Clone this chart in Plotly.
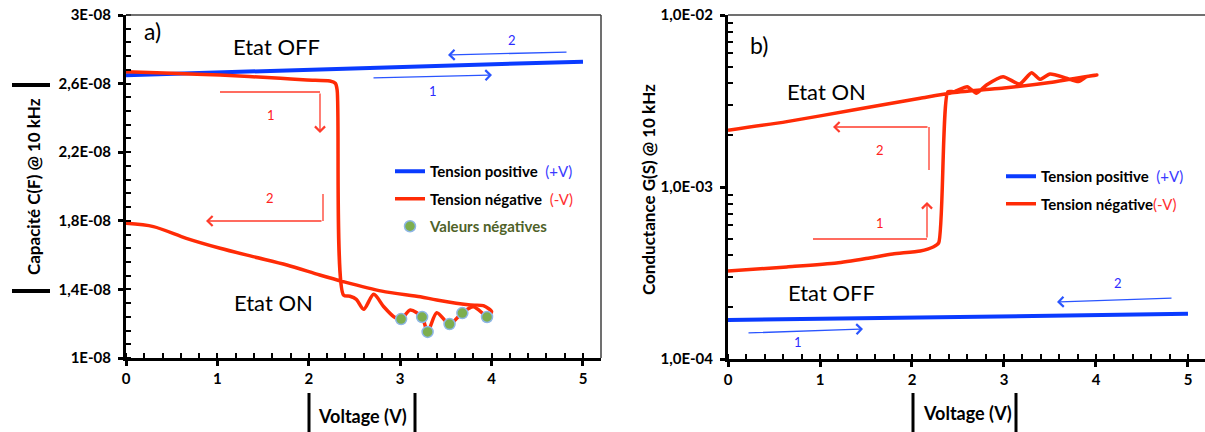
import plotly.graph_objects as go

W, H = 1205, 432
FONT = "Lato"
BLUE = "#0A3BFF"
RED = "#FF2B06"
ARROW_BLUE = "#2A55FF"
ARROW_RED = "#FF3B2B"

# ---------------- data: panel a) capacitance ----------------
volt_a_pos = [0.0, 2.5, 5.0]
cap_a_pos = [2.649e-8, 2.686e-8, 2.728e-8]

volt_a_neg = [0.0, 0.5, 1.03, 1.69, 1.98, 2.23, 2.29, 2.31, 2.38, 2.45, 2.52, 2.60,
              2.71, 2.82, 2.93, 3.01, 3.11, 3.24, 3.30, 3.40, 3.54, 3.68, 3.80, 3.95,
              4.00, 3.91, 3.77, 3.40, 3.22, 2.80, 2.38, 2.12, 1.76, 1.39, 1.03, 0.66,
              0.30, 0.0]
cap_a_neg = [2.669e-8, 2.660e-8, 2.650e-8, 2.631e-8, 2.621e-8, 2.615e-8, 2.602e-8,
             2.563e-8, 1.367e-8, 1.360e-8, 1.342e-8, 1.284e-8, 1.371e-8, 1.299e-8,
             1.241e-8, 1.226e-8, 1.280e-8, 1.237e-8, 1.153e-8, 1.264e-8, 1.198e-8,
             1.264e-8, 1.299e-8, 1.245e-8, 1.270e-8, 1.305e-8, 1.309e-8, 1.338e-8,
             1.357e-8, 1.390e-8, 1.445e-8, 1.484e-8, 1.542e-8, 1.591e-8, 1.640e-8,
             1.698e-8, 1.766e-8, 1.785e-8]

volt_a_dots = [3.01, 3.24, 3.30, 3.54, 3.68, 3.95]
cap_a_dots = [1.227e-8, 1.239e-8, 1.152e-8, 1.198e-8, 1.262e-8, 1.239e-8]

# ---------------- data: panel b) conductance ----------------
volt_b_pos = [0.0, 2.5, 5.0]
cond_b_pos = [1.685e-4, 1.755e-4, 1.83e-4]

volt_b_neg = [0.0, 0.64, 1.18, 1.54, 1.79, 2.09, 2.23, 2.29, 2.39, 2.46, 2.60, 2.70,
              2.81, 2.99, 3.17, 3.30, 3.39, 3.50, 3.68, 3.81, 3.90, 4.01, 3.50, 3.00,
              2.74, 2.41, 2.09, 1.36, 0.64, 0.0]
cond_b_neg = [3.25e-4, 3.43e-4, 3.61e-4, 3.87e-4, 4.08e-4, 4.25e-4, 4.48e-4, 4.73e-4,
              3.58e-3, 3.58e-3, 3.83e-3, 3.51e-3, 3.92e-3, 4.38e-3, 3.97e-3, 4.62e-3,
              4.23e-3, 4.54e-3, 4.29e-3, 4.10e-3, 4.38e-3, 4.48e-3, 4.05e-3, 3.76e-3,
              3.66e-3, 3.51e-3, 3.28e-3, 2.80e-3, 2.40e-3, 2.14e-3]

# ---------------- tick labels ----------------
x_ticks = [0, 1, 2, 3, 4, 5]
y_a_ticks = [1e-8, 1.4e-8, 1.8e-8, 2.2e-8, 2.6e-8, 3e-8]
y_a_labels = ["1E-08", "1,4E-08", "1,8E-08", "2,2E-08", "2,6E-08", "3E-08"]
y_b_ticks = [1e-4, 1e-3, 1e-2]
y_b_labels = ["1,0E-04", "1,0E-03", "1,0E-02"]
y_b_minor = [m * 10.0 ** e for e in (-4, -3) for m in range(2, 10)]

legend_pos = "<b>Tension positive</b>  <span style='color:#3B3BFF'>(+V)</span>"
legend_neg_a = "<b>Tension négative</b>  <span style='color:#FF3030'>(-V)</span>"
legend_neg_b = "<b>Tension négative</b><span style='color:#FF3030'>(-V)</span>"
legend_dots = "<b><span style='color:#4F6228'>Valeurs négatives</span></b>"


def px(x):
    return x / W


def py(y):
    return 1 - y / H


fig = go.Figure()

# panel a
fig.add_trace(go.Scatter(x=volt_a_pos, y=cap_a_pos, mode="lines", name=legend_pos,
                         line=dict(color=BLUE, width=4), xaxis="x", yaxis="y",
                         legend="legend", legendgroup="a1"))
fig.add_trace(go.Scatter(x=volt_a_neg, y=cap_a_neg, mode="lines", name=legend_neg_a,
                         line=dict(color=RED, width=3.5, shape="spline", smoothing=0.8),
                         xaxis="x", yaxis="y", legend="legend", legendgroup="a2"))
fig.add_trace(go.Scatter(x=volt_a_dots, y=cap_a_dots, mode="markers", name=legend_dots,
                         marker=dict(color="#7DAE4E", size=11,
                                     line=dict(color="#8DB6E6", width=1.5)),
                         xaxis="x", yaxis="y", legend="legend", legendgroup="a3"))

# panel b
fig.add_trace(go.Scatter(x=volt_b_pos, y=cond_b_pos, mode="lines", name=legend_pos,
                         line=dict(color=BLUE, width=4), xaxis="x2", yaxis="y2",
                         legend="legend2", legendgroup="b1"))
fig.add_trace(go.Scatter(x=volt_b_neg, y=cond_b_neg, mode="lines", name=legend_neg_b,
                         line=dict(color=RED, width=3.5, shape="spline", smoothing=0.6),
                         xaxis="x2", yaxis="y2", legend="legend2", legendgroup="b2"))

tickfont = dict(family=FONT, size=15, color="black", weight="bold")
common_x = dict(showline=True, linewidth=3, linecolor="black", showgrid=False,
                zeroline=False, ticks="outside", ticklen=5, tickwidth=2.5,
                tickcolor="black", tickvals=x_ticks, tickfont=tickfont,
                automargin=False,
                minor=dict(ticks="inside", dtick=0.2, tick0=0, ticklen=5,
                           tickwidth=2, tickcolor="black"))

fig.update_layout(
    width=W, height=H, autosize=False,
    margin=dict(l=0, r=0, t=0, b=0, pad=0, autoexpand=False),
    paper_bgcolor="white", plot_bgcolor="white",
    font=dict(family=FONT, color="black"),
    xaxis=dict(domain=[px(126), px(601)], range=[0, 5.197], anchor="y", **common_x),
    yaxis=dict(domain=[py(358), py(15)], range=[1e-8, 3e-8], anchor="x",
               showline=True, linewidth=3, linecolor="black", showgrid=False,
               zeroline=False, ticks="outside", ticklen=5, tickwidth=2.5,
               tickcolor="black", tickvals=y_a_ticks, ticktext=y_a_labels,
               tickfont=tickfont, ticklabelstandoff=4, automargin=False,
               minor=dict(ticks="inside", dtick=0.08e-8, tick0=1e-8, ticklen=5,
                          tickwidth=2, tickcolor="black")),
    xaxis2=dict(domain=[px(728), 1.0], range=[0, 5.185], anchor="y2", **common_x),
    yaxis2=dict(domain=[py(359), py(15)], type="log", range=[-4, -2], anchor="x2",
                showline=True, linewidth=3, linecolor="black", showgrid=False,
                zeroline=False, ticks="outside", ticklen=5, tickwidth=2.5,
                tickcolor="black", tickvals=y_b_ticks, ticktext=y_b_labels,
                tickfont=tickfont, ticklabelstandoff=4, automargin=False,
                minor=dict(ticks="inside", tickvals=y_b_minor, ticklen=5,
                           tickwidth=2, tickcolor="black")),
    legend=dict(x=px(390), y=py(155), xanchor="left", yanchor="top",
                bgcolor="rgba(0,0,0,0)", font=dict(family=FONT, size=15, color="black"),
                tracegroupgap=5, traceorder="grouped"),
    legend2=dict(x=px(1001), y=py(160), xanchor="left", yanchor="top",
                 bgcolor="rgba(0,0,0,0)", font=dict(family=FONT, size=15, color="black"),
                 tracegroupgap=5, traceorder="grouped"),
)

ann = []
shapes = []


def text(x, y, s, size, color="black", weight="normal", angle=0):
    ann.append(dict(x=px(x), y=py(y), xref="paper", yref="paper", text=s,
                    showarrow=False, textangle=angle, xanchor="center", yanchor="middle",
                    font=dict(family=FONT, size=size, color=color, weight=weight)))


def arrow(tx, ty, hx, hy, color):
    ann.append(dict(x=px(hx), y=py(hy), xref="paper", yref="paper", text="",
                    ax=tx - hx, ay=ty - hy, axref="pixel", ayref="pixel",
                    showarrow=True, arrowhead=4, arrowsize=1.5, arrowwidth=1.3,
                    arrowcolor=color, standoff=0))


def seg(x0, y0, x1, y1, color, width):
    shapes.append(dict(type="line", xref="paper", yref="paper", x0=px(x0), y0=py(y0),
                       x1=px(x1), y1=py(y1), line=dict(color=color, width=width)))


# frame lines
seg(126, 15, 601, 15, "#404040", 1.5)
seg(601, 15, 601, 358, "#404040", 1.5)
seg(728, 15, 1205, 15, "#404040", 1.5)

# axis titles with bars
text(33, 187, "Capacité C(F) @ 10 kHz", 17, weight="bold", angle=-90)
seg(12, 85, 50, 85, "black", 4)
seg(12, 291, 50, 291, "black", 4)
text(362, 416, "Voltage (V)", 18, weight="bold")
seg(309, 393, 309, 432, "black", 3)
seg(415, 393, 415, 432, "black", 3)
text(648, 190, "Conductance G(S) @ 10 kHz", 17, weight="bold", angle=-90)
text(967, 413, "Voltage (V)", 18, weight="bold")
seg(913, 393, 913, 432, "black", 3)
seg(1016, 393, 1016, 432, "black", 3)

# panel a annotations
text(152, 31, "a)", 23)
text(276, 47, "Etat OFF", 22)
text(273, 302, "Etat ON", 22)
arrow(568, 52, 448, 55, ARROW_BLUE)
text(512, 40, "2", 13, color="#2B2BFF")
arrow(372, 78, 492, 75, ARROW_BLUE)
text(433, 91, "1", 13, color="#2B2BFF")
seg(220, 92, 320, 92, ARROW_RED, 1.3)
arrow(320, 92, 320, 133, ARROW_RED)
text(271, 115, "1", 13, color="#FF2020")
seg(323, 194, 323, 221, ARROW_RED, 1.3)
arrow(323, 221, 206, 221, ARROW_RED)
text(270, 198, "2", 13, color="#FF2020")

# panel b annotations
text(759, 45, "b)", 23)
text(826, 91, "Etat ON", 22)
text(831, 292, "Etat OFF", 22)
seg(929, 170, 929, 127, ARROW_RED, 1.3)
arrow(929, 127, 833, 127, ARROW_RED)
text(880, 150, "2", 13, color="#FF2020")
seg(813, 239, 927, 239, ARROW_RED, 1.3)
arrow(927, 239, 927, 202, ARROW_RED)
text(880, 223, "1", 13, color="#FF2020")
arrow(1173, 298, 1057, 302, ARROW_BLUE)
text(1118, 283, "2", 13, color="#2B2BFF")
arrow(747, 333, 863, 329, ARROW_BLUE)
text(798, 342, "1", 13, color="#2B2BFF")

fig.update_layout(annotations=ann, shapes=shapes)
fig.write_html("out.html", config={"displayModeBar": False},
               post_script="document.body.style.margin='0px';")
